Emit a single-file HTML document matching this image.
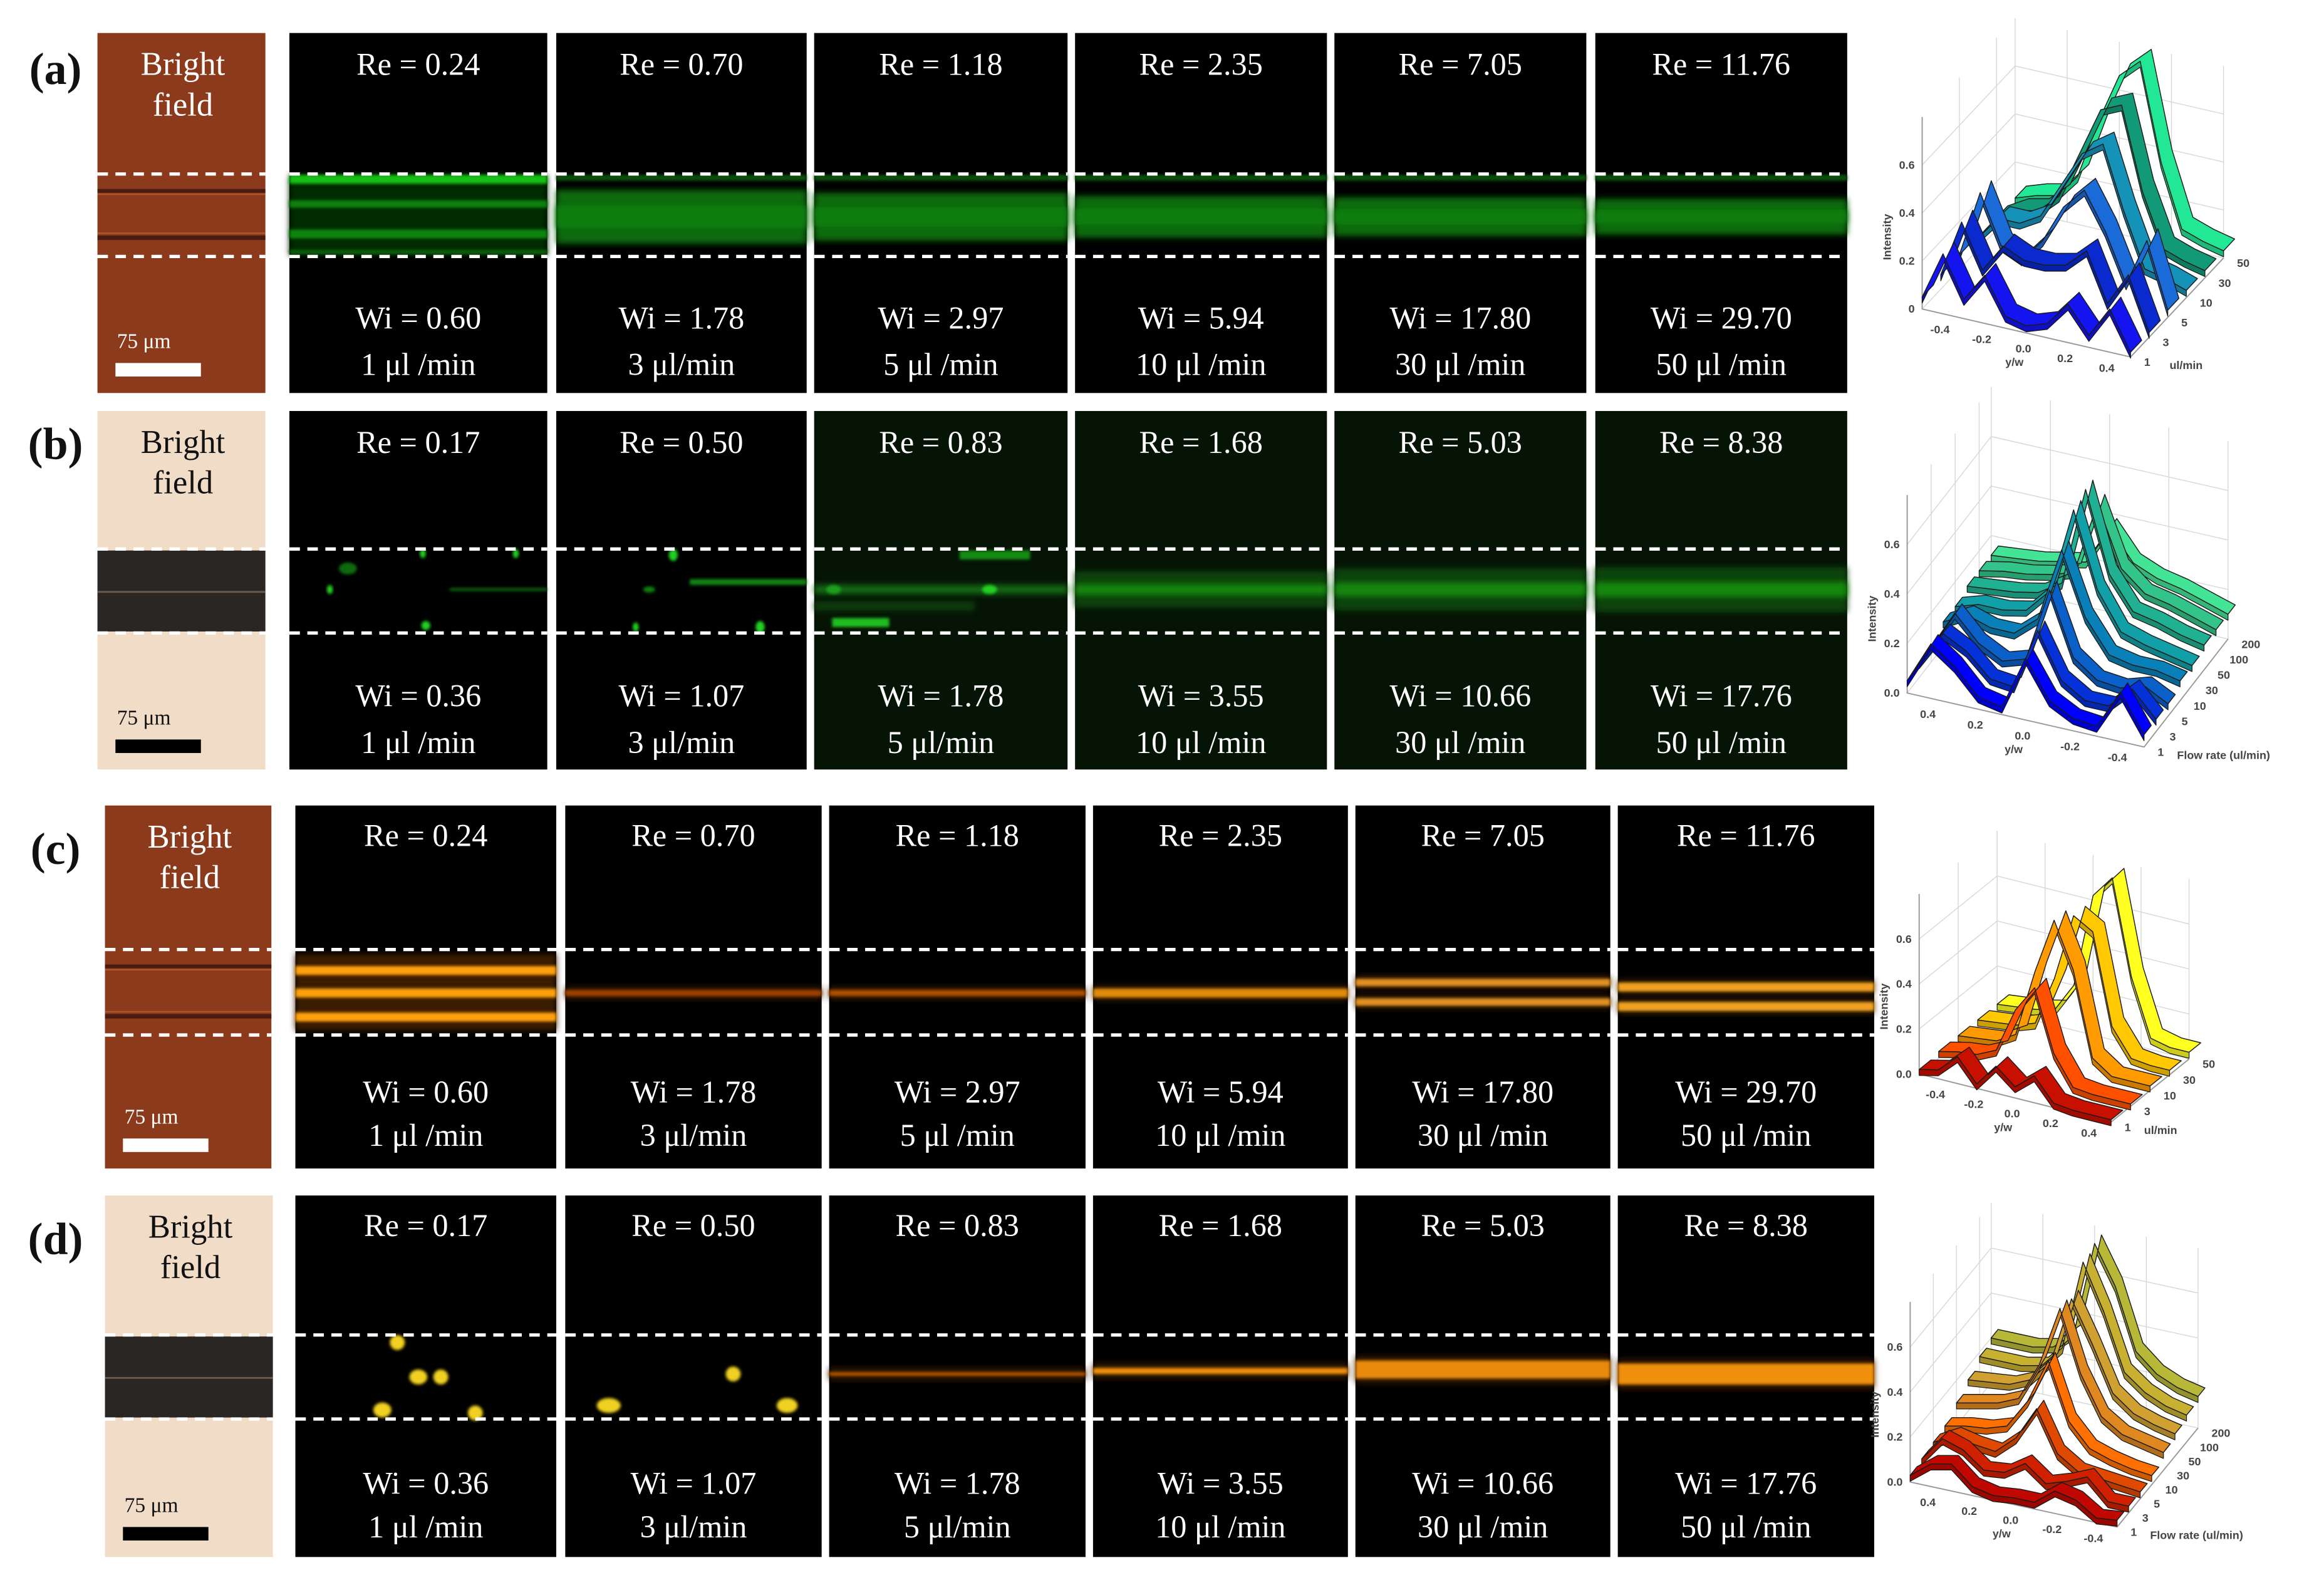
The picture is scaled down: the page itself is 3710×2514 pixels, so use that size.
<!DOCTYPE html>
<html><head><meta charset="utf-8">
<style>
html,body{margin:0;padding:0;background:#fff;}
svg{display:block;}
text{font-family:"Liberation Serif",serif;}
.ax{font-family:"Liberation Sans",sans-serif;font-weight:bold;fill:#444;}
</style></head>
<body>
<svg id="fig" width="3710" height="2514" viewBox="0 0 1550 1050" preserveAspectRatio="none" xmlns="http://www.w3.org/2000/svg">
<defs>
<filter id="blur" x="-20%" y="-200%" width="140%" height="500%"><feGaussianBlur stdDeviation="2"/></filter>
<filter id="blur1" x="-20%" y="-200%" width="140%" height="500%"><feGaussianBlur stdDeviation="1"/></filter>
</defs>
</svg>
<script>
// ---- panel labels / text data ----
const rowLetters = ['(a)','(b)','(c)','(d)'];
const reA = ['0.24','0.70','1.18','2.35','7.05','11.76'];
const wiA = ['0.60','1.78','2.97','5.94','17.80','29.70'];
const reB = ['0.17','0.50','0.83','1.68','5.03','8.38'];
const wiB = ['0.36','1.07','1.78','3.55','10.66','17.76'];
const flowLbl = ['1 μl /min','3 μl/min','5 μl /min','10 μl /min','30 μl /min','50 μl /min'];
const flowLblB = ['1 μl /min','3 μl/min','5 μl/min','10 μl /min','30 μl /min','50 μl /min'];

// ---- 3D plot data ----
const ywTicksAC = ['-0.4','-0.2','0.0','0.2','0.4'];
const ywTicksBD = ['0.4','0.2','0.0','-0.2','-0.4'];
const zTicks = [0, 0.2, 0.4, 0.6];
const flowA = ['1','3','5','10','30','50'];
const flowB = ['1','3','5','10','30','50','100','200'];
const flowC = ['1','3','10','30','50'];
const flowD = ['1','3','5','10','30','50','100','200'];
const profA = [
 [0.05,0.25,0.08,0.2,0.05,0.03,0.06,0.16,0.05,0.18,0.02],
 [0.06,0.3,0.12,0.24,0.2,0.2,0.22,0.3,0.1,0.24,0.02],
 [0.06,0.34,0.14,0.1,0.2,0.36,0.45,0.3,0.1,0.3,0.03],
 [0.05,0.15,0.15,0.2,0.35,0.5,0.56,0.3,0.08,0.06,0.03],
 [0.05,0.1,0.12,0.2,0.4,0.6,0.64,0.3,0.08,0.05,0.03],
 [0.05,0.08,0.1,0.2,0.45,0.66,0.74,0.34,0.08,0.05,0.03]
];
const profB = [
 [0.05,0.22,0.15,0.05,0.03,0.25,0.1,0.05,0.04,0.2,0.05],
 [0.06,0.2,0.15,0.06,0.05,0.3,0.12,0.06,0.06,0.15,0.05],
 [0.06,0.22,0.12,0.07,0.1,0.4,0.15,0.08,0.07,0.1,0.05],
 [0.1,0.15,0.12,0.12,0.2,0.5,0.25,0.12,0.1,0.1,0.08],
 [0.1,0.13,0.13,0.15,0.25,0.6,0.3,0.15,0.12,0.1,0.08],
 [0.12,0.13,0.14,0.16,0.22,0.62,0.3,0.17,0.15,0.12,0.1],
 [0.12,0.14,0.15,0.17,0.2,0.5,0.26,0.18,0.16,0.13,0.1],
 [0.12,0.13,0.14,0.16,0.18,0.34,0.22,0.18,0.16,0.13,0.1]
];
const profC = [
 [0.02,0.04,0.12,0.02,0.12,0.05,0.12,0.02,0.01,0.01,0.01],
 [0.03,0.05,0.06,0.1,0.3,0.42,0.15,0.02,0.01,0.01,0.01],
 [0.03,0.04,0.05,0.1,0.4,0.65,0.45,0.08,0.02,0.02,0.02],
 [0.03,0.04,0.05,0.08,0.3,0.6,0.55,0.15,0.03,0.02,0.02],
 [0.03,0.04,0.05,0.07,0.2,0.62,0.72,0.3,0.05,0.03,0.03]
];
const profD = [
 [0.03,0.1,0.12,0.04,0.02,0.03,0.03,0.1,0.08,0.02,0.03],
 [0.04,0.15,0.12,0.05,0.06,0.12,0.05,0.08,0.12,0.03,0.03],
 [0.05,0.1,0.08,0.07,0.15,0.3,0.12,0.06,0.05,0.04,0.03],
 [0.06,0.08,0.09,0.12,0.25,0.45,0.2,0.1,0.07,0.05,0.04],
 [0.1,0.12,0.14,0.18,0.35,0.62,0.35,0.18,0.12,0.1,0.08],
 [0.14,0.15,0.16,0.2,0.3,0.6,0.42,0.22,0.15,0.12,0.1],
 [0.18,0.18,0.18,0.2,0.3,0.7,0.5,0.25,0.18,0.14,0.12],
 [0.2,0.2,0.2,0.22,0.3,0.72,0.55,0.28,0.2,0.16,0.14]
];
const colA = ['#1414f0','#0a2ad0','#1a6ad8','#1592b8','#129a78','#22e896'];
const colB = ['#0000ff','#0532d8','#0a60c8','#0a80b8','#12a0a8','#20b092','#32c488','#44e496'];
const colC = ['#c81000','#ff5000','#ff9a00','#ffc800','#ffff20'];
const colD = ['#c00800','#d02000','#e04a00','#ff7000','#e08820','#d0a030','#c8b030','#b8b838'];

const svg = document.getElementById('fig');
const NS = 'http://www.w3.org/2000/svg';
function el(tag, attrs, parent){
  const e = document.createElementNS(NS, tag);
  for (const k in attrs) e.setAttribute(k, attrs[k]);
  (parent||svg).appendChild(e);
  return e;
}
function txt(s, x, y, size, fill, parent, anchor, cls){
  const t = el('text', {x:x, y:y, 'font-size':size, fill:fill, 'text-anchor':anchor||'middle'}, parent);
  if (cls) t.setAttribute('class', cls);
  t.textContent = s;
  return t;
}

const rows = [
 {y0:22,y1:262,d1:116,d2:171,reY:50,wiY:219,flY:250,bf:[65,177],bfType:'brown',panels:[[193,365],[371,538],[543,712],[717,885],[890,1058],[1064,1232]],re:reA,wi:wiA,fl:flowLbl,kind:'ga'},
 {y0:274,y1:513,d1:366,d2:422,reY:302,wiY:471,flY:502,bf:[65,177],bfType:'beige',panels:[[193,365],[371,538],[543,712],[717,885],[890,1058],[1064,1232]],re:reB,wi:wiB,fl:flowLblB,kind:'gb'},
 {y0:537,y1:779,d1:633,d2:690,reY:564,wiY:735,flY:764,bf:[70,181],bfType:'brown',panels:[[197,371],[377,548],[553,724],[729,899],[904,1074],[1079,1250]],re:reA,wi:wiA,fl:flowLbl,kind:'oc'},
 {y0:797,y1:1038,d1:890,d2:946,reY:824,wiY:996,flY:1025,bf:[70,182],bfType:'beige',panels:[[197,371],[377,548],[553,724],[729,899],[904,1074],[1079,1250]],re:reB,wi:wiB,fl:flowLblB,kind:'od'}
];
const letterY = [56, 306, 576, 836];

function band(g, x0, x1, yc, h, color, op, f){
  const r = el('rect', {x:x0, y:yc-h/2, width:x1-x0, height:h, fill:color, opacity:op, filter:'url(#'+(f||'blur')+')'}, g);
  
  
}
function dot(g, x, y, rx, ry, color){
  const c = el('ellipse', {cx:x, cy:y, rx:rx, ry:ry, fill:color, filter:'url(#blur1)'}, g);
  
  
}

rows.forEach((r, ri) => {
  const L = txt(rowLetters[ri], 37, letterY[ri], 30, '#111', null, 'middle');
  L.setAttribute('font-weight', 'bold');
  
  

  const bg = el('g', {}, svg);
  
  
  const [bx0, bx1] = r.bf;
  const mid = (r.d1 + r.d2) / 2;
  if (r.bfType === 'brown') {
    el('rect', {x:bx0, y:r.y0, width:bx1-bx0, height:r.y1-r.y0, fill:'#8b3a1c'}, bg);
    el('rect', {x:bx0, y:r.d1+10, width:bx1-bx0, height:2.5, fill:'#4a1c10'}, bg);
    el('rect', {x:bx0, y:r.d2-14, width:bx1-bx0, height:3, fill:'#4a1c10'}, bg);
    el('rect', {x:bx0, y:r.d1+13, width:bx1-bx0, height:1, fill:'#b0582c'}, bg);
    el('rect', {x:bx0, y:r.d2-16, width:bx1-bx0, height:1, fill:'#b0582c'}, bg);
  } else {
    el('rect', {x:bx0, y:r.y0, width:bx1-bx0, height:r.y1-r.y0, fill:'#f1ddc7'}, bg);
    el('rect', {x:bx0, y:r.d1+1, width:bx1-bx0, height:r.d2-r.d1-2, fill:'#2a2624'}, bg);
    el('rect', {x:bx0, y:mid, width:bx1-bx0, height:1.2, fill:'#6a5a50'}, bg);
  }
  const light = r.bfType === 'brown';
  const bfc = light ? '#fff' : '#111';
  const t1 = txt('Bright', (bx0+bx1)/2+1, r.y0+28, 22, bfc, bg);
  
  
  const t2 = txt('field', (bx0+bx1)/2+1, r.y0+55, 22, bfc, bg);
  
  
  const sb = el('rect', {x:bx0+12, y:r.y1-20, width:57, height:9, fill:light?'#fff':'#000'}, bg);
  
  
  const st = txt('75 μm', bx0+13, r.y1-30, 14, bfc, bg, 'start');
  
  
  const bd = el('path', {d:'M'+bx0+' '+r.d1+'H'+bx1+'M'+bx0+' '+r.d2+'H'+bx1, stroke:'#fff', 'stroke-width':2.2, 'stroke-dasharray':'7 5'}, bg);
  
  

  r.panels.forEach((p, pi) => {
    const [x0, x1] = p;
    const g = el('g', {}, svg);
    
    
    const green = (r.kind === 'gb' && pi >= 2) ? '#061406' : '#000';
    el('rect', {x:x0, y:r.y0, width:x1-x0, height:r.y1-r.y0, fill:green}, g);
    const G = '#22d022', O = '#ffa010';
    if (r.kind === 'ga') {
      if (pi === 0) {
        band(g, x0, x1, mid, r.d2-r.d1-2, '#062a06', 1);
        band(g, x0, x1, 119.5, 6, '#18c018', 1, 'blur1');
        band(g, x0, x1, 136, 5, '#0c800c', 1, 'blur1');
        band(g, x0, x1, 156, 6, '#0c840c', 1, 'blur1');
        band(g, x0, x1, 168, 3, '#0a600a', 1, 'blur1');
      } else {
        const hw = [30, 26, 22, 20, 18][pi-1];
        band(g, x0, x1, 118.5, 4, '#0a5a0a', 0.9, 'blur1');
        band(g, x0, x1, mid+1, hw+6, '#0b6a0b', 1);
        band(g, x0, x1, mid+1, hw*0.5, '#0e7e0e', 1);
      }
    } else if (r.kind === 'gb') {
      if (pi === 0) {
        dot(g, 220, 393, 2, 3, G); dot(g, 282, 369, 2, 3, G); dot(g, 344, 369, 2, 3, G);
        dot(g, 284, 417, 3, 3, G); dot(g, 232, 379, 6, 4, '#106a10'); band(g, 300, 365, 393, 2, '#127a12', 0.8, 'blur1');
      } else if (pi === 1) {
        dot(g, 449, 370, 3, 4, G); dot(g, 424, 418, 2, 3, G); dot(g, 507, 418, 3, 4, G);
        band(g, 460, 538, 388, 4, '#129012', 0.9, 'blur1'); dot(g, 433, 393, 4, 2, '#118011');
      } else if (pi === 2) {
        band(g, x0, x1, 393, 6, '#127412', 0.9); band(g, 640, 687, 370, 6, '#139a13', 0.9, 'blur1');
        band(g, 555, 593, 415, 6, G, 0.9, 'blur1'); dot(g, 660, 393, 5, 3, G); dot(g, 556, 393, 5, 3, '#1aa01a');
        band(g, x0, 650, 404, 6, '#0b4a0b', 0.8);
      } else {
        const w = [14, 18, 20][pi-3];
        band(g, x0, x1, 393, w+10, '#0b4a0b', 0.9);
        band(g, x0, x1, 393, w*0.5, '#14900f', 0.9);
      }
    } else if (r.kind === 'oc') {
      if (pi === 0) {
        band(g, x0, x1, mid, r.d2-r.d1-6, '#3a1a00', 1);
        [647, 662, 678].forEach(y => band(g, x0, x1, y, 6, O, 1, 'blur1'));
      } else {
        const spec = [[[662,4,'#a04000']],[[662,4,'#b05000']],[[662,6,'#e08a10']],[[655,5,'#e09020'],[668,5,'#e09020']],[[658,6,'#f0a020'],[671,6,'#f0a020']]][pi-1];
        spec.forEach(s => band(g, x0, x1, s[0], s[1]+4, '#402000', 0.8));
        spec.forEach(s => band(g, x0, x1, s[0], s[1], s[2], 1, 'blur1'));
      }
    } else {
      const Y = '#f0d020';
      if (pi === 0) { dot(g, 265, 895, 5, 5, Y); dot(g, 279, 918, 6, 5, Y); dot(g, 294, 918, 5, 5, Y); dot(g, 255, 940, 6, 5, Y); dot(g, 317, 942, 5, 5, Y); }
      else if (pi === 1) { dot(g, 489, 916, 5, 5, Y); dot(g, 406, 937, 8, 5, Y); dot(g, 525, 937, 7, 5, Y); }
      else {
        const spec = [[916,2,'#c86000'],[914,4,'#f09010'],[913,12,'#e88a10'],[916,14,'#f09010']][pi-2];
        band(g, x0, x1, spec[0], spec[1]+6, '#3a1a00', 0.9);
        band(g, x0, x1, spec[0], spec[1], spec[2], 1, 'blur1');
      }
    }
    const dsh = el('path', {d:'M'+x0+' '+r.d1+'H'+x1+'M'+x0+' '+r.d2+'H'+x1, stroke:'#fff', 'stroke-width':2.2, 'stroke-dasharray':'7 5'}, g);
    
    
    const cx = (x0+x1)/2;
    const a = txt('Re = ' + r.re[pi], cx, r.reY, 21, '#fff', g);
    
    
    const b = txt('Wi = ' + r.wi[pi], cx, r.wiY, 21, '#fff', g);
    
    
    const c = txt(r.fl[pi], cx, r.flY, 21, '#fff', g);
    
    
  });
});

function plot3d(cfg){
  const g = el('g', {}, svg);
  
  
  const n = cfg.prof.length;
  const P = (t, fi, z) => [cfg.O[0] + cfg.ux[0]*t + cfg.uf[0]*fi/(n-1), cfg.O[1] + cfg.ux[1]*t + cfg.uf[1]*fi/(n-1) - cfg.zs*z];
  const top = 0.8;
  const gr = el('g', {stroke:'#d8d8d8', 'stroke-width':0.6, fill:'none'}, g);
  
  
  for (let k = 0; k <= 4; k++) {
    const t = k/4;
    const a = P(t, n-1, 0), b = P(t, n-1, top);
    el('line', {x1:a[0], y1:a[1], x2:b[0], y2:b[1]}, gr);
  }
  zTicks.forEach(z => {
    const a = P(0, n-1, z), b = P(1, n-1, z), c = P(0, 0, z);
    el('path', {d:'M'+c[0]+' '+c[1]+'L'+a[0]+' '+a[1]+'L'+b[0]+' '+b[1]}, gr);
  });
  for (let k = 0; k < n; k += 2) { const a = P(0,k,0), b = P(0,k,top); el('line', {x1:a[0],y1:a[1],x2:b[0],y2:b[1]}, gr); }
  const o = P(0,0,0), xe = P(1,0,0), fe = P(1,n-1,0), zt = P(0,0,top);
  const ax = el('path', {d:'M'+zt[0]+' '+zt[1]+'L'+o[0]+' '+o[1]+'L'+xe[0]+' '+xe[1]+'L'+fe[0]+' '+fe[1], stroke:'#999', 'stroke-width':0.8, fill:'none'}, g);
  
  
  const dep = [cfg.uf[0]/(n-1)*0.6, cfg.uf[1]/(n-1)*0.6];
  const th = 4;
  for (let i = n-1; i >= 0; i--) {
    const v = cfg.prof[i], m = v.length;
    const front = v.map((z, j) => P(j/(m-1), i, z));
    const back = front.map(p => [p[0]+dep[0], p[1]+dep[1]]);
    // front wall (thickness)
    let dw = 'M' + front.map(p => p[0].toFixed(1)+' '+p[1].toFixed(1)).join('L');
    dw += 'L' + front.slice().reverse().map(p => p[0].toFixed(1)+' '+(p[1]+th).toFixed(1)).join('L') + 'Z';
    const fw = el('path', {d:dw, fill:cfg.col[i], stroke:'#1a1a1a', 'stroke-width':0.5, 'stroke-linejoin':'round', 'filter':'brightness(0.8)'}, g);
    
    
    let d = 'M' + front.map(p => p[0].toFixed(1)+' '+p[1].toFixed(1)).join('L');
    d += 'L' + back.slice().reverse().map(p => p[0].toFixed(1)+' '+p[1].toFixed(1)).join('L') + 'Z';
    const rb = el('path', {d:d, fill:cfg.col[i], stroke:'#1a1a1a', 'stroke-width':0.6, 'stroke-linejoin':'round'}, g);
    
    
  }
  zTicks.forEach(z => {
    const p = P(0,0,z);
    const t = txt(z === 0 && cfg.zero0 ? '0' : z.toFixed(1), p[0]-5, p[1]+2.5, 7.5, '#444', g, 'end', 'ax');
    
    
  });
  cfg.ywT.forEach((s, k) => {
    const p = P(0.1 + 0.2*k, 0, 0);
    const t = txt(s, p[0]-2, p[1]+13, 7.5, '#444', g, 'middle', 'ax');
    
    
  });
  const yl = P(0.5, 0, 0);
  const ywl = txt('y/w', yl[0]-8, yl[1]+22, 7.5, '#444', g, 'middle', 'ax');
  
  
  cfg.flow.forEach((s, i) => {
    const p = P(1, i, 0);
    const t = txt(s, p[0]+9, p[1]+6, 7.5, '#444', g, 'start', 'ax');
    
    
  });
  const f0 = P(1, 0, 0);
  const ft = txt(cfg.flowTitle, f0[0]+cfg.ftdx, f0[1]+8, 7.5, '#444', g, 'start', 'ax');
  
  
  const zl = P(0, 0, 0.3);
  const it = txt('Intensity', 0, 0, 7.5, '#444', g, 'middle', 'ax');
  it.setAttribute('transform', 'translate(' + (zl[0]-21) + ',' + zl[1] + ') rotate(-90)');
  
  
}
plot3d({name:'plot-a', prof:profA, col:colA, flow:flowA, ywT:ywTicksAC, O:[1282,206], ux:[139,32], uf:[62,-66], zs:160, zero0:true, flowTitle:'ul/min', ftdx:26});
plot3d({name:'plot-b', prof:profB, col:colB, flow:flowB, ywT:ywTicksBD, O:[1272,462], ux:[158,36], uf:[56,-72], zs:165, zero0:false, flowTitle:'Flow rate (ul/min)', ftdx:22});
plot3d({name:'plot-c', prof:profC, col:colC, flow:flowC, ywT:ywTicksAC, O:[1280,716], ux:[128,32], uf:[52,-42], zs:150, zero0:false, flowTitle:'ul/min', ftdx:22});
plot3d({name:'plot-d', prof:profD, col:colD, flow:flowD, ywT:ywTicksBD, O:[1274,988], ux:[138,30], uf:[54,-66], zs:150, zero0:false, flowTitle:'Flow rate (ul/min)', ftdx:22});
</script>
</body></html>
